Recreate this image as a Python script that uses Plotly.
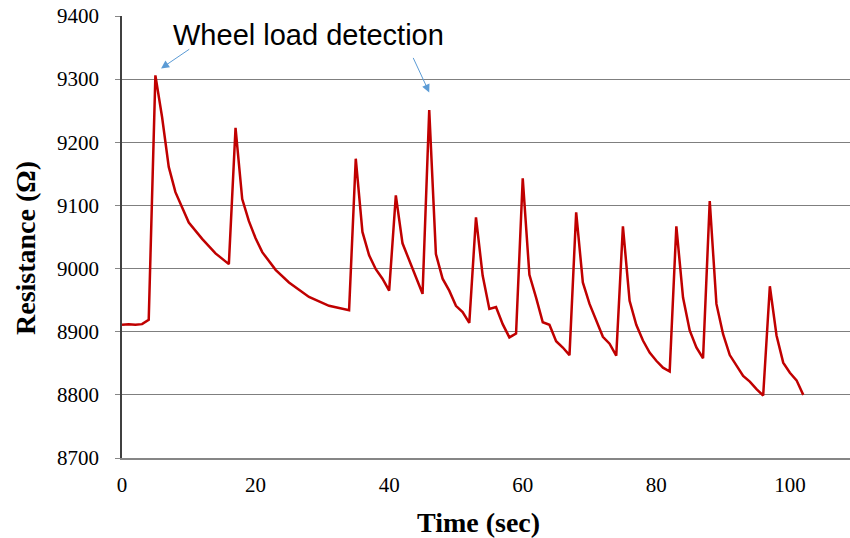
import plotly.graph_objects as go

time_sec = [0, 1, 2, 3, 4, 5, 6, 7, 8, 10, 12, 14, 16,
            17, 18, 19, 20, 21, 23, 25, 28, 31, 34,
            35, 36, 37, 38, 39, 40,
            41, 42, 43, 44, 45,
            46, 47, 48, 49, 50, 51, 52,
            53, 54, 55, 56, 57, 58, 59,
            60, 61, 62, 63, 64, 65, 66, 67,
            68, 69, 70, 71, 72, 73, 74,
            75, 76, 77, 78, 79, 80, 81, 82,
            83, 84, 85, 86, 87,
            88, 89, 90, 91, 92, 93, 94, 95, 96,
            97, 98, 99, 100, 101, 102]
resistance = [8911, 8912, 8911, 8912, 8919, 9306, 9240, 9161, 9121, 9073, 9047, 9024, 9007,
              9223, 9110, 9075, 9048, 9026, 8998, 8978, 8955, 8941, 8934,
              9174, 9058, 9021, 8999, 8984, 8965,
              9116, 9040, 9013, 8989, 8960,
              9251, 9023, 8984, 8965, 8941, 8931, 8914,
              9081, 8989, 8936, 8939, 8912, 8891, 8897,
              9143, 8990, 8954, 8915, 8911, 8885, 8875, 8863,
              9089, 8978, 8944, 8917, 8892, 8881, 8862,
              9067, 8949, 8911, 8886, 8867, 8854, 8843, 8837,
              9067, 8954, 8902, 8875, 8858,
              9107, 8944, 8896, 8863, 8846, 8830, 8821, 8809, 8799,
              8972, 8894, 8851, 8835, 8823, 8800]

x_ticks = [0, 20, 40, 60, 80, 100]
y_ticks = [8700, 8800, 8900, 9000, 9100, 9200, 9300, 9400]
annotation_text = "Wheel load detection"
x_title = "<b>Time (sec)</b>"
y_title = "<b>Resistance (Ω)</b>"

# plot-area pixel geometry
L, R, T, B = 122, 850, 16, 458
W, H = R - L, B - T


def px(xp):
    return (xp - L) / W


def py(yp):
    return (B - yp) / H


fig = go.Figure()
fig.add_trace(go.Scatter(x=time_sec, y=resistance, mode="lines",
                         line=dict(color="#C00000", width=2.5), showlegend=False))

arrow_color = "#5B9BD5"
fig.add_annotation(x=5.85, y=9317, ax=10.3, ay=9349, xref="x", yref="y",
                   axref="x", ayref="y", text="", showarrow=True,
                   arrowhead=2, arrowsize=1.6, arrowwidth=1, arrowcolor=arrow_color)
fig.add_annotation(x=46.0, y=9279, ax=43.5, ay=9336, xref="x", yref="y",
                   axref="x", ayref="y", text="", showarrow=True,
                   arrowhead=2, arrowsize=1.6, arrowwidth=1, arrowcolor=arrow_color)
fig.add_annotation(x=px(308), y=py(35), xref="paper", yref="paper", text=annotation_text,
                   showarrow=False, font=dict(family="Liberation Sans, Arial", size=29, color="black"),
                   xanchor="center", yanchor="middle")
fig.add_annotation(x=px(478), y=py(522), xref="paper", yref="paper", text=x_title,
                   showarrow=False, font=dict(size=28, color="black"),
                   xanchor="center", yanchor="middle")
fig.add_annotation(x=px(25), y=py(248), xref="paper", yref="paper", text=y_title,
                   showarrow=False, font=dict(size=28, color="black"), textangle=-90,
                   xanchor="center", yanchor="middle")

fig.update_layout(
    width=850, height=538,
    margin=dict(l=L, r=850 - R, t=T, b=538 - B),
    paper_bgcolor="white", plot_bgcolor="white",
    font=dict(family="Liberation Serif, Times New Roman", color="black", size=21),
    xaxis=dict(range=[0, 109], tickvals=x_ticks, showgrid=False, zeroline=False,
               showline=True, linecolor="#868686", linewidth=1.5, ticks="",
               ticklabelstandoff=7),
    yaxis=dict(range=[8700, 9400], tickvals=y_ticks, showgrid=True, gridcolor="#7f7f7f",
               gridwidth=1.3, zeroline=False, showline=True, linecolor="#404040",
               linewidth=1.5, ticks="outside", ticklen=5, tickcolor="#868686",
               ticklabelstandoff=12),
)

fig.write_html("out.html")
